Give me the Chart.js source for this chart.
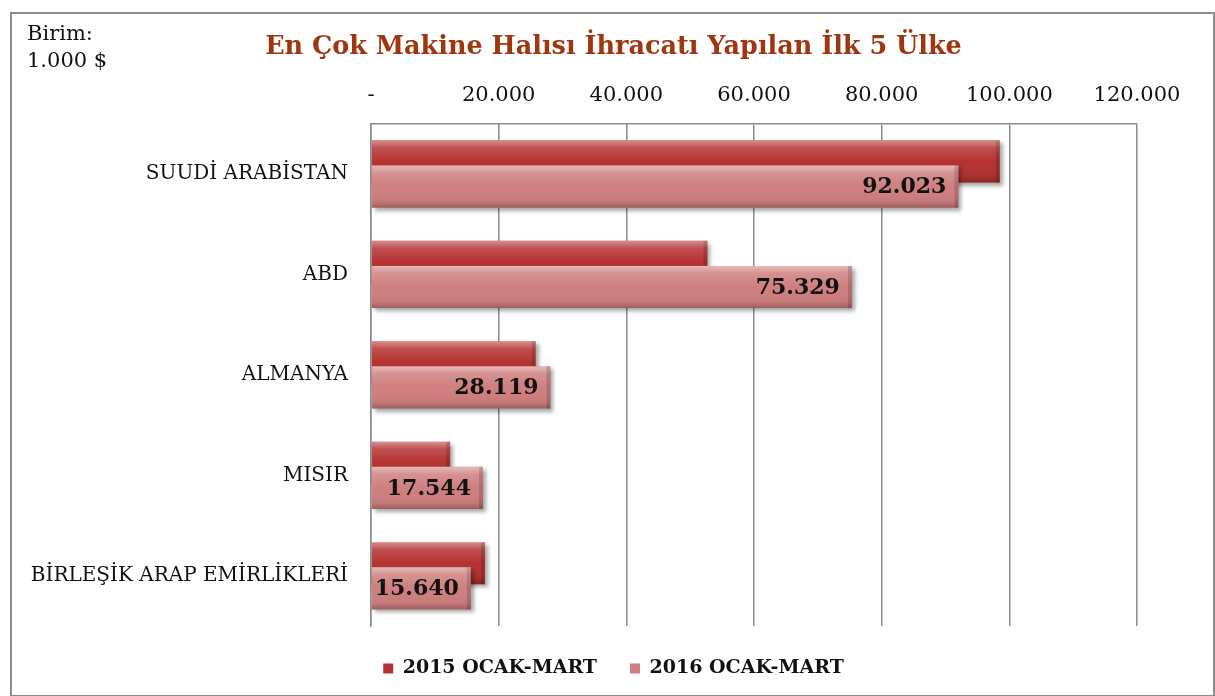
<!DOCTYPE html>
<html>
<head>
<meta charset="utf-8">
<script src="https://cdn.jsdelivr.net/npm/chart.js@4.4.1/dist/chart.umd.min.js"></script>
<style>
  html, body { margin: 0; padding: 0; background: #fff; }
  #frame { position: absolute; left: 10px; top: 12px; width: 1201px; height: 681px; border: 2px solid #8c8c8c; }
  #unit { position: absolute; left: 27px; top: 20px; font: 21px "DejaVu Serif", serif; color: #111; line-height: 27px; }
  #wrap { position: absolute; left: 0; top: 0; width: 1215px; height: 696px; }
</style>
</head>
<body>
<div id="frame"></div>
<div id="wrap"><canvas id="chart" width="1215" height="696"></canvas></div>
<div id="unit">Birim:<br>1.000 $</div>
<script>
const countries = ["SUUDİ ARABİSTAN", "ABD", "ALMANYA", "MISIR", "BİRLEŞİK ARAP EMİRLİKLERİ"];
const values2015 = [98500, 52700, 25800, 12400, 17850];
const values2016 = [92023, 75329, 28119, 17544, 15640];
const seriesNames = ["2015 OCAK-MART", "2016 OCAK-MART"];
const xTicks = [0, 20000, 40000, 60000, 80000, 100000, 120000];

const fmt = v => v === 0 ? "-" : v.toLocaleString("de-DE");

function shade(ctx, bar) {
  const top = bar.y - bar.height / 2;
  const w = bar.x - bar.base;
  const h = bar.height;
  ctx.save();
  const g = ctx.createLinearGradient(0, top, 0, top + h);
  g.addColorStop(0, "rgba(255,255,255,0.45)");
  g.addColorStop(0.18, "rgba(255,255,255,0.15)");
  g.addColorStop(0.5, "rgba(255,255,255,0)");
  g.addColorStop(0.85, "rgba(0,0,0,0.05)");
  g.addColorStop(1, "rgba(0,0,0,0.25)");
  ctx.fillStyle = g;
  ctx.fillRect(bar.base, top, w, h);
  ctx.fillStyle = "rgba(0,0,0,0.15)";
  ctx.fillRect(bar.x - 4, top, 4, h);
  ctx.restore();
}

function withShadow(ctx, fn) {
  ctx.save();
  ctx.shadowColor = "rgba(0,0,0,0.35)";
  ctx.shadowOffsetX = 3;
  ctx.shadowOffsetY = 3;
  ctx.shadowBlur = 4;
  fn();
  ctx.restore();
}

// 2016 bars sit on top of the 2015 ones, so draw them last
const barLook = {
  afterLayout(chart) {
    // title and legend are centred a bit right of the plot in the original
    [chart.titleBlock, chart.legend].forEach(b => { b.left += 32; b.right += 32; });
  },
  beforeDatasetDraw(chart, args) {
    if (args.index === 1) return false;
    chart.ctx.save();
    chart.ctx.shadowColor = "rgba(0,0,0,0.35)";
    chart.ctx.shadowOffsetX = 3;
    chart.ctx.shadowOffsetY = 3;
    chart.ctx.shadowBlur = 4;
  },
  afterDatasetDraw(chart, args) {
    if (args.index === 1) return;
    chart.ctx.restore();
    args.meta.data.forEach(bar => shade(chart.ctx, bar));
  },
  afterDatasetsDraw(chart) {
    const ctx = chart.ctx;
    const meta = chart.getDatasetMeta(1);
    withShadow(ctx, () => meta.data.forEach(bar => bar.draw(ctx)));
    meta.data.forEach((bar, i) => {
      shade(ctx, bar);
      ctx.save();
      ctx.font = "bold 22px 'DejaVu Serif', serif";
      ctx.fillStyle = "#111";
      ctx.textAlign = "right";
      ctx.textBaseline = "middle";
      ctx.fillText(fmt(values2016[i]), bar.x - 12, bar.y + 1);
      ctx.restore();
    });
  }
};

new Chart(document.getElementById("chart"), {
  type: "bar",
  data: {
    labels: countries,
    datasets: [
      { label: seriesNames[0], data: values2015, backgroundColor: "#b53232", borderWidth: 0,
        categoryPercentage: 0.5, barPercentage: 1.68 },
      { label: seriesNames[1], data: values2016, backgroundColor: "#cf7f7f", borderWidth: 0,
        categoryPercentage: 0.5, barPercentage: 1.68 }
    ]
  },
  options: {
    indexAxis: "y",
    responsive: false,
    animation: false,
    layout: { padding: { left: 26, right: 78, top: 12, bottom: 8 } },
    scales: {
      x: {
        position: "top",
        min: 0,
        max: 120000,
        afterBuildTicks: axis => { axis.ticks = xTicks.map(v => ({ value: v })); },
        ticks: { callback: v => fmt(v), color: "#111", font: { family: "'DejaVu Serif', serif", size: 21 }, padding: 16, maxRotation: 0 },
        grid: { color: "#8c8c8c", lineWidth: 1.5, drawTicks: false },
        border: { display: true, color: "#8c8c8c", width: 1.5 }
      },
      y: {
        afterFit: s => { s.width = 345; },
        ticks: { color: "#111", font: { family: "'DejaVu Serif', serif", size: 20 }, padding: 23 },
        grid: { display: false, drawTicks: false },
        border: { color: "#8c8c8c", width: 1.5 }
      }
    },
    plugins: {
      title: {
        display: true,
        text: "En Çok Makine Halısı İhracatı Yapılan İlk 5 Ülke",
        color: "#a0360f",
        font: { family: "'DejaVu Serif', serif", size: 25.5, weight: "bold" },
        padding: { top: 20, bottom: 4 }
      },
      legend: {
        position: "bottom",
        labels: {
          color: "#111",
          font: { family: "'DejaVu Serif', serif", size: 19, weight: "bold" },
          boxWidth: 10, boxHeight: 10, padding: 33
        }
      },
      tooltip: { enabled: false }
    }
  },
  plugins: [barLook]
});
</script>
</body>
</html>
